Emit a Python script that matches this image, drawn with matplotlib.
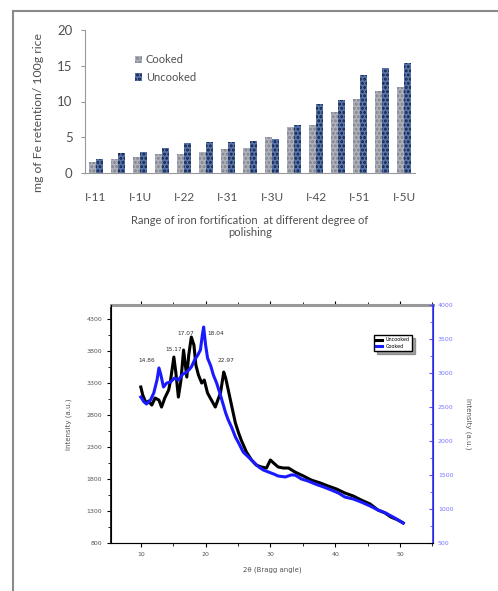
import numpy as np
import matplotlib.pyplot as plt
from matplotlib.lines import Line2D

# ---- top chart: Fe retention ----
groups = ['I-11', 'I-12', 'I-1U', 'I-21', 'I-22', 'I-2U', 'I-31', 'I-32',
          'I-3U', 'I-41', 'I-42', 'I-4U', 'I-51', 'I-52', 'I-5U']
cooked = [1.6, 2.0, 2.3, 2.6, 2.7, 2.9, 3.3, 3.5, 5.1, 6.4, 6.7, 8.6, 10.3, 11.4, 12.0]
uncooked = [1.9, 2.8, 3.0, 3.5, 4.2, 4.4, 4.4, 4.5, 4.7, 6.7, 9.7, 10.2, 13.7, 14.7, 15.4]

# ---- bottom chart: XRD patterns ----
two_theta_a = [10.0, 10.3, 10.8, 11.2, 11.7, 12.2, 12.8, 13.2, 13.7, 14.3, 14.6, 15.1,
               15.4, 15.8, 16.2, 16.6, 17.1, 17.4, 17.8, 18.2, 18.5, 18.9, 19.4, 19.8,
               20.3, 20.9, 21.5, 22.0, 22.3, 22.8, 23.1, 23.5, 24.0, 24.6, 25.1, 25.5,
               26.3, 27.1, 27.8, 28.6, 29.4, 30.0, 30.5, 31.2, 32.0, 32.8, 33.8, 35.1,
               36.3, 37.7, 38.9, 40.2, 41.5, 42.8, 44.0, 45.4, 46.6, 47.7, 48.6, 49.7, 50.5]
intensity_a = [3238, 3113, 2988, 3019, 2956, 3066, 3034, 2925, 3066, 3191, 3347, 3706,
               3472, 3081, 3347, 3816, 3394, 3738, 4019, 3894, 3581, 3425, 3300, 3347,
               3144, 3034, 2925, 3066, 3144, 3472, 3378, 3191, 2956, 2675, 2519, 2409,
               2222, 2097, 2019, 1988, 1972, 2097, 2050, 1988, 1972, 1972, 1909, 1847,
               1784, 1738, 1691, 1644, 1581, 1534, 1472, 1409, 1316, 1269, 1206, 1159, 1113]

two_theta_b = [10.0, 10.5, 10.9, 11.5, 12.0, 12.5, 12.8, 13.1, 13.5, 14.0, 14.6, 15.2,
               15.8, 16.5, 16.9, 17.4, 17.8, 18.3, 18.8, 19.2, 19.5, 19.7, 20.0, 20.3,
               20.8, 21.2, 21.7, 22.2, 22.6, 23.1, 23.5, 24.0, 24.6, 25.1, 25.8, 26.6,
               27.4, 28.2, 28.9, 29.7, 30.5, 31.2, 32.3, 33.2, 33.8, 34.8, 35.8, 36.9,
               38.2, 39.4, 40.5, 41.5, 42.8, 44.0, 45.4, 46.6, 47.8, 49.2, 50.5]
intensity_b = [2647, 2574, 2544, 2603, 2706, 2897, 3074, 2971, 2794, 2853, 2868, 2926,
               2897, 2985, 3000, 3044, 3088, 3191, 3265, 3338, 3559, 3676, 3412, 3221,
               3103, 2971, 2853, 2706, 2574, 2412, 2309, 2206, 2059, 1971, 1838, 1765,
               1691, 1618, 1574, 1544, 1515, 1485, 1471, 1500, 1500, 1441, 1412, 1368,
               1324, 1279, 1235, 1176, 1147, 1103, 1044, 985, 941, 868, 794]

peak_labels = ['14.86', '15.17', '17.07', '18.04', '22.97']
peak_x = [10.9, 15.1, 16.9, 21.5, 23.2]
peak_y = [3659, 3831, 4081, 4081, 3659]

W, H = 498, 591
fig = plt.figure(figsize=(W / 100, H / 100), dpi=100)

# page frame of the scanned document
fig.add_artist(Line2D([13 / W, 13 / W], [0, 1 - 11 / H], color='#8a8a8a', lw=1.5))
fig.add_artist(Line2D([13 / W, 1], [1 - 11 / H, 1 - 11 / H], color='#8a8a8a', lw=1.5))

txt = '#505050'
font_top = ['Lato', 'DejaVu Sans']

# ---------------- top chart ----------------
ax = fig.add_axes([85 / W, 1 - 173 / H, 330 / W, 143 / H])
x = np.arange(len(groups))
bw = 0.33
plt.rcParams['hatch.linewidth'] = 1.4
ax.bar(x - bw / 2, cooked, width=bw, color='#aeb1ba', edgecolor='#7f838f',
       hatch='....', linewidth=0, label='Cooked')
ax.bar(x + bw / 2, uncooked, width=bw, color='#5674ad', edgecolor='#15203f',
       hatch='....', linewidth=0, label='Uncooked')
ax.set_xlim(-0.5, len(groups) - 0.5)
ax.set_ylim(0, 20)
ax.set_yticks([0, 5, 10, 15, 20])
ax.set_xticks(x[::2])
ax.set_xticklabels(groups[::2], family=font_top, fontsize=8.5, color=txt)
for lab in ax.get_yticklabels():
    lab.set_family(font_top)
    lab.set_fontsize(9.5)
    lab.set_color(txt)
ax.tick_params(axis='x', length=0, pad=14)
ax.tick_params(axis='y', length=3, color='#999999', pad=6)
for s in ['top', 'right']:
    ax.spines[s].set_visible(False)
ax.spines['left'].set_color('#999999')
ax.spines['bottom'].set_color('#999999')
ax.set_xlabel('Range of iron fortification  at different degree of\npolishing',
              family=font_top, fontsize=8, color=txt, labelpad=8)
ax.set_ylabel('mg of Fe retention/ 100g rice', family=font_top, fontsize=8.8,
              color=txt, labelpad=1)
ax.yaxis.set_label_coords(-0.125, 0.42)
ax.legend(loc='upper left', bbox_to_anchor=(0.12, 0.9), frameon=False,
          prop={'family': font_top, 'size': 8}, handlelength=0.7, handleheight=0.7,
          handletextpad=0.3, labelspacing=0.6, labelcolor=txt)

# ---------------- bottom chart ----------------
ax1 = fig.add_axes([111 / W, 1 - 543 / H, 322 / W, 238 / H])
ax2 = ax1.twinx()
l1, = ax1.plot(two_theta_a, intensity_a, color='black', lw=2.2)
l2, = ax2.plot(two_theta_b, intensity_b, color='#1a1aff', lw=2.2)
ax1.set_xlim(5.4, 55.1)
ax1.set_ylim(800, 4520)
ax2.set_ylim(500, 4000)
ax1.set_xticks([10, 20, 30, 40, 50])
ax1.set_xticks([15, 25, 35, 45, 55], minor=True)
ax1.set_yticks(np.arange(800, 4301, 500))
ax1.set_yticks(np.arange(1050, 4520, 500), minor=True)
ax2.set_yticks(np.arange(500, 4001, 500))
ax2.set_yticks(np.arange(750, 4000, 500), minor=True)
ax1.tick_params(axis='both', which='major', labelsize=4.5, length=3, width=0.8,
                labelcolor='#555555', top=True)
ax1.tick_params(axis='both', which='minor', length=2, width=0.6, top=True)
ax2.tick_params(axis='y', which='major', labelsize=4.5, length=3, width=0.8,
                colors='#5555ff', labelcolor='#7777ff', direction='in')
ax2.tick_params(axis='y', which='minor', length=2, colors='#5555ff', direction='in')
ax1.spines['top'].set_color('#999999')
ax1.spines['top'].set_linewidth(2.2)
ax1.spines['left'].set_linewidth(1.2)
ax1.spines['bottom'].set_color('#777777')
ax2.spines['right'].set_color('#3333ff')
ax2.spines['right'].set_linewidth(1.2)
ax2.spines['top'].set_visible(False)
ax1.set_xlabel('2θ (Bragg angle)', fontsize=5, color='#555555', labelpad=7)
ax1.set_ylabel('Intensity (a.u.)', fontsize=5, color='#555555', labelpad=10)
ax2.set_ylabel('Intensity (a.u.)', fontsize=5, color='#555555', rotation=270,
               labelpad=13)
for lab, px, py in zip(peak_labels, peak_x, peak_y):
    ax1.text(px, py, lab, fontsize=4.2, color='#333333', ha='center', va='center')
ax1.legend([l1, l2], ['Uncooked', 'Cooked'], loc='center',
           bbox_to_anchor=(0.876, 0.84), fontsize=3.5, frameon=True, shadow=True,
           fancybox=False, edgecolor='black', handlelength=1.2, borderpad=0.4,
           labelspacing=0.3)

fig.savefig('out.png', dpi=100)
